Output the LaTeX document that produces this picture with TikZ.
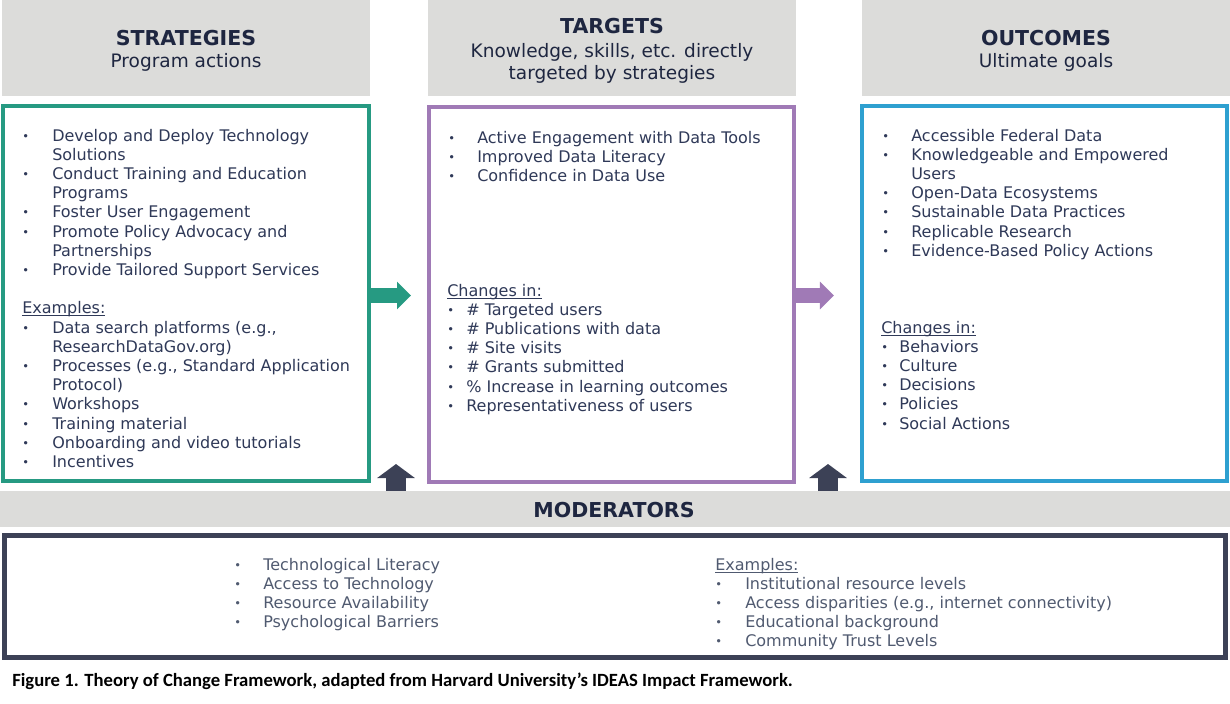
\documentclass[tikz,border=0pt]{standalone}
\usepackage{fontspec}
\setmainfont{DejaVu Sans}
\newfontfamily\capfont{Carlito}
\usetikzlibrary{arrows.meta}

\definecolor{hdrgray}{RGB}{220,220,218}
\definecolor{stratgreen}{RGB}{38,154,130}
\definecolor{targpurple}{RGB}{160,122,182}
\definecolor{outblue}{RGB}{46,160,208}
\definecolor{moddark}{RGB}{60,65,86}
\definecolor{inktext}{RGB}{47,57,88}
\definecolor{modtext}{RGB}{80,90,112}
\definecolor{headink}{RGB}{30,38,64}

% bullet with a fixed-width slot, and the matching hanging indent
\newcommand\bl[1]{\makebox[#1][l]{\raisebox{0.06em}{\scalebox{0.72}{\textbullet}}}}
\newcommand\hang[1]{\hspace*{#1}}
\newcommand\ulabel[1]{\underline{\smash{#1}}}
\newcommand\bodyfont{\fontsize{12}{14.4}\selectfont}

\begin{document}
\begin{tikzpicture}[x=0.75pt,y=-0.75pt,
  hdrbox/.style={fill=hdrgray,draw=none,minimum width=276pt,minimum height=72pt,inner sep=0},
  frame/.style={draw=#1,line width=3pt,fill=white,minimum width=273.9pt,minimum height=281.25pt,inner sep=0},
  title/.style={anchor=base,inner sep=0,text=headink,font=\bfseries\fontsize{15.4}{18}\selectfont},
  subtitle/.style={anchor=base,inner sep=0,text=headink,font=\fontsize{13.9}{16}\selectfont},
  listblock/.style={anchor=base west,inner sep=0,text=inktext,font=\bodyfont},
  modblock/.style={anchor=base west,inner sep=0,text=modtext,font=\bodyfont},
  flowarrow/.style={draw=#1,line width=11.25pt,
    -{Triangle[length=10.5pt,width=20.25pt,fill=#1]}},
  uparrow/.style={draw=moddark,line width=15pt,
    -{Triangle[length=10.5pt,width=27.75pt,fill=moddark]}}
]
\useasboundingbox (0,0) rectangle (1230,703);

% column headers
\node[hdrbox] (strathdr) at (186,48) {};
\node[hdrbox] (targhdr)  at (612,48) {};
\node[hdrbox] (outhdr)   at (1046,48) {};

\node[title]    (strattitle) at (186,45) {STRATEGIES};
\node[subtitle] (stratsub)   at (186,67) {Program actions};
\node[title]    (targtitle)  at (612,33) {TARGETS};
\node[subtitle] (targsub1)   at (612,57) {Knowledge, skills, etc. directly};
\node[subtitle] (targsub2)   at (612,79) {targeted by strategies};
\node[title]    (outtitle)   at (1046,45) {OUTCOMES};
\node[subtitle] (outsub)     at (1046,67) {Ultimate goals};

% moderators bar and box
\node[fill=hdrgray,minimum width=922.5pt,minimum height=27pt,inner sep=0] (modbar) at (615,509) {};
\node[title] (modtitle) at (614,517) {MODERATORS};

% upward arrows from the moderators bar
\coordinate (up1) at (396,464);
\coordinate (up2) at (828,464);
\draw[uparrow] (up1 |- modbar.north) -- (up1);
\draw[uparrow] (up2 |- modbar.north) -- (up2);

% main column frames
\node[frame=stratgreen] (strat) at (186,293.5) {};
\node[frame=targpurple,minimum width=273.75pt] (targ) at (611,294.5) {};
\node[frame=outblue,minimum width=273.4pt] (outc) at (1044.75,293.5) {};

\node[draw=moddark,line width=3.75pt,minimum width=915.75pt,minimum height=91.5pt,inner sep=0] (modbox) at (614.5,596.5) {};

% horizontal flow arrows
\coordinate (ga) at ([yshift=-1.5pt]strat.east);
\coordinate (pa) at ([yshift=-0.75pt]targ.east);
\draw[flowarrow=stratgreen,shorten >=11.6pt] (ga) -- (ga -| targ.west);
\draw[flowarrow=targpurple,shorten >=19.9pt] (pa) -- (pa -| outc.west);

% strategies list
\node[listblock] (stratlist) at (22,141) {\parbox[t]{300pt}{\raggedright
\bl{22.5pt}Develop and Deploy Technology\\
\hang{22.5pt}Solutions\\
\bl{22.5pt}Conduct Training and Education\\
\hang{22.5pt}Programs\\
\bl{22.5pt}Foster User Engagement\\
\bl{22.5pt}Promote Policy Advocacy and\\
\hang{22.5pt}Partnerships\\
\bl{22.5pt}Provide Tailored Support Services\\
\mbox{}\\
\ulabel{Examples:}\\
\bl{22.5pt}Data search platforms (e.g.,\\
\hang{22.5pt}ResearchDataGov.org)\\
\bl{22.5pt}Processes (e.g., Standard Application\\
\hang{22.5pt}Protocol)\\
\bl{22.5pt}Workshops\\
\bl{22.5pt}Training material\\
\bl{22.5pt}Onboarding and video tutorials\\
\bl{22.5pt}Incentives}};

% targets lists
\node[listblock] (targlist) at (448,143) {\parbox[t]{300pt}{\raggedright
\bl{21.75pt}Active Engagement with Data Tools\\
\bl{21.75pt}Improved Data Literacy\\
\bl{21.75pt}Confidence in Data Use}};

\node[listblock] (targchg) at (447,296) {\parbox[t]{300pt}{\raggedright
\ulabel{Changes in:}\\
\bl{14.25pt}\# Targeted users\\
\bl{14.25pt}\# Publications with data\\
\bl{14.25pt}\# Site visits\\
\bl{14.25pt}\# Grants submitted\\
\bl{14.25pt}\% Increase in learning outcomes\\
\bl{14.25pt}Representativeness of users}};

% outcomes lists
\node[listblock] (outlist) at (882,141) {\parbox[t]{300pt}{\raggedright
\bl{21.75pt}Accessible Federal Data\\
\bl{21.75pt}Knowledgeable and Empowered\\
\hang{21.75pt}Users\\
\bl{21.75pt}Open-Data Ecosystems\\
\bl{21.75pt}Sustainable Data Practices\\
\bl{21.75pt}Replicable Research\\
\bl{21.75pt}Evidence-Based Policy Actions}};

\node[listblock] (outchg) at (881,333) {\parbox[t]{300pt}{\raggedright
\ulabel{Changes in:}\\
\bl{13.5pt}Behaviors\\
\bl{13.5pt}Culture\\
\bl{13.5pt}Decisions\\
\bl{13.5pt}Policies\\
\bl{13.5pt}Social Actions}};

% moderators lists
\node[modblock] (modfactors) at (234,570) {\parbox[t]{300pt}{\raggedright
\bl{21.75pt}Technological Literacy\\
\bl{21.75pt}Access to Technology\\
\bl{21.75pt}Resource Availability\\
\bl{21.75pt}Psychological Barriers}};

\node[modblock] (modexamples) at (715,570) {\parbox[t]{400pt}{\raggedright
\ulabel{Examples:}\\
\bl{22.5pt}Institutional resource levels\\
\bl{22.5pt}Access disparities (e.g., internet connectivity)\\
\bl{22.5pt}Educational background\\
\bl{22.5pt}Community Trust Levels}};

% caption
\node[anchor=base west,inner sep=0,font=\capfont\bfseries\fontsize{14}{16}\selectfont] (caption) at (12,686)
  {Figure 1. Theory of Change Framework, adapted from Harvard University’s IDEAS Impact Framework.};
\end{tikzpicture}
\end{document}
